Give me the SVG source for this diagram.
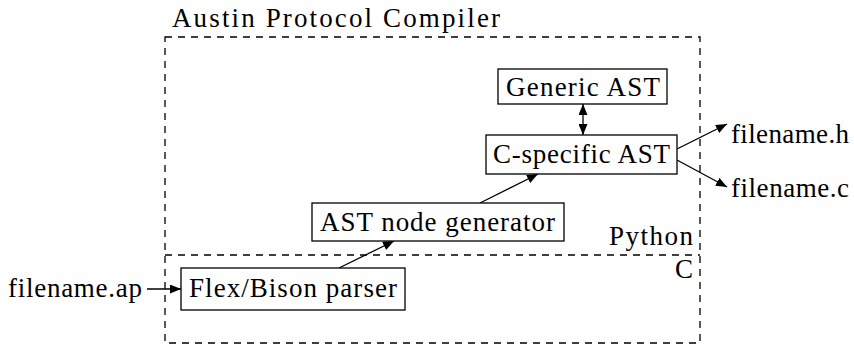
<svg xmlns="http://www.w3.org/2000/svg" width="854" height="345" viewBox="0 0 854 345">
<style>
text{font-family:'Liberation Serif',serif;font-size:27px;fill:#000}
.box{fill:#fff;stroke:#000;stroke-width:1.3}
.dash{fill:none;stroke:#000;stroke-width:1.3;stroke-dasharray:7 6}
.conn{fill:none;stroke:#000;stroke-width:1.3}
</style>
<defs>
<marker id="ah" viewBox="0 0 11 9" refX="11" refY="4.5" markerWidth="11" markerHeight="9" markerUnits="userSpaceOnUse" orient="auto-start-reverse">
<path d="M0,0 L11,4.5 L0,9 Z" fill="#000"/>
</marker>
</defs>
<rect x="0" y="0" width="854" height="345" fill="#fff"/>
<g id="compiler">
<rect class="dash" x="165" y="37" width="535" height="306"/>
<line class="dash" x1="165" y1="255" x2="700" y2="255"/>
<text x="172" y="27" textLength="328">Austin Protocol Compiler</text>
<text x="609" y="245" textLength="84">Python</text>
<text x="693" y="278" text-anchor="end">C</text>
</g>
<g id="connectors">
<line class="conn" x1="147" y1="289" x2="181" y2="289" marker-end="url(#ah)"/>
<line class="conn" x1="339" y1="268" x2="394" y2="241" marker-end="url(#ah)"/>
<line class="conn" x1="480" y1="203" x2="538" y2="174" marker-end="url(#ah)"/>
<line class="conn" x1="583" y1="104" x2="583" y2="135" marker-start="url(#ah)" marker-end="url(#ah)"/>
<line class="conn" x1="677" y1="149" x2="727" y2="124" marker-end="url(#ah)"/>
<line class="conn" x1="677" y1="160" x2="727" y2="187" marker-end="url(#ah)"/>
</g>
<g id="generic-ast">
<rect class="box" x="498" y="69" width="169" height="35"/>
<text x="506" y="96" textLength="154">Generic AST</text>
</g>
<g id="c-specific-ast">
<rect class="box" x="486" y="135" width="191" height="39"/>
<text x="493" y="163" textLength="177">C-specific AST</text>
</g>
<g id="ast-node-generator">
<rect class="box" x="312" y="203" width="252" height="38"/>
<text x="320" y="231" textLength="235">AST node generator</text>
</g>
<g id="flex-bison-parser">
<rect class="box" x="181" y="268" width="224" height="42"/>
<text x="189" y="297" textLength="208">Flex/Bison parser</text>
</g>
<g id="filename-ap">
<text x="8" y="297" textLength="134">filename.ap</text>
</g>
<g id="filename-h">
<text x="731" y="143" textLength="118">filename.h</text>
</g>
<g id="filename-c">
<text x="731" y="197" textLength="118">filename.c</text>
</g>
</svg>
